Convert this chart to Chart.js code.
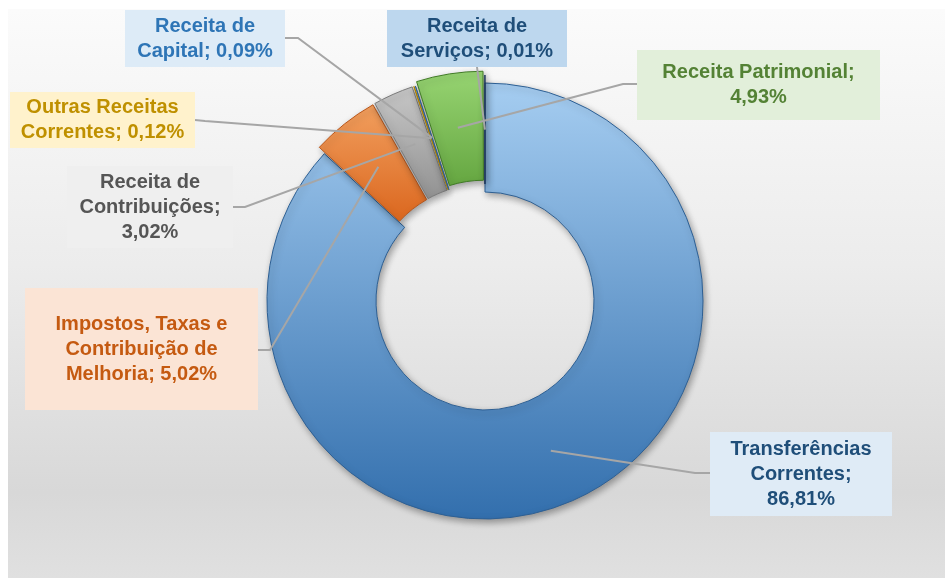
<!DOCTYPE html>
<html>
<head>
<meta charset="utf-8">
<script src="https://cdn.jsdelivr.net/npm/chart.js@4.4.0/dist/chart.umd.min.js"></script>
<style>
  html, body { margin: 0; padding: 0; background: #fff; }
  #panel {
    position: absolute; left: 8px; top: 9px; width: 937px; height: 569px;
    background: linear-gradient(to bottom, #fbfbfb 0%, #ececec 45%, #d8d8d8 85%, #e0e0e0 100%);
  }
  #wrap { position: absolute; left: 0; top: 0; width: 945px; height: 578px; }
</style>
</head>
<body>
<div id="panel"></div>
<div id="wrap"><canvas id="chart" width="945" height="578"></canvas></div>
<script>
// data, clockwise from 12 o'clock
const categories = ["Transferências Correntes", "Impostos, Taxas e Contribuição de Melhoria", "Receita de Contribuições",
  "Outras Receitas Correntes", "Receita de Capital", "Receita Patrimonial", "Receita de Serviços"];
const values = [86.81, 5.02, 3.02, 0.12, 0.09, 4.93, 0.01];

// label text lines, "{v}" gets the formatted value
const labelLines = [
  ["Transferências", "Correntes;", "{v}"],
  ["Impostos, Taxas e", "Contribuição de", "Melhoria; {v}"],
  ["Receita de", "Contribuições;", "{v}"],
  ["Outras Receitas", "Correntes; {v}"],
  ["Receita de", "Capital; {v}"],
  ["Receita Patrimonial;", "{v}"],
  ["Receita de", "Serviços; {v}"]
];

// slice looks: [top colour, bottom colour, edge]
const sliceColors = [
  ["#a9d0f3", "#2f6cab", "#2d5f93"],
  ["#f9b274", "#dc6a22", "#b9561a"],
  ["#d2d2d2", "#8a8a8a", "#7a7a7a"],
  ["#ffd24d", "#d9a300", "#b88a00"],
  ["#7fb3e3", "#3f7fc0", "#33679c"],
  ["#9bd876", "#5a9c36", "#3f7a24"],
  ["#30558f", "#1d3c6b", "#1a3358"]
];
// explode (chart.js scales this down when drawing)
const offsets = [0, 19, 18, 16, 16, 28, 16];

// label boxes: x, y, w, h, background, text colour, leader start + elbow
const boxes = [
  { x: 710, y: 432, w: 182, h: 84, bg: "#dfebf6", fg: "#1f4e79", from: [710, 473], elbow: [695, 473] },
  { x: 25, y: 288, w: 233, h: 122, bg: "#fbe4d5", fg: "#c55a11", from: [258, 350], elbow: [270, 350] },
  { x: 67, y: 166, w: 166, h: 82, bg: "#efefef", fg: "#555555", from: [233, 207], elbow: [245, 207] },
  { x: 10, y: 92, w: 185, h: 56, bg: "#fff2cc", fg: "#bf9000", from: [195, 120], elbow: [205, 121] },
  { x: 125, y: 10, w: 160, h: 57, bg: "#ddebf7", fg: "#2e75b6", from: [285, 38], elbow: [298, 38] },
  { x: 637, y: 50, w: 243, h: 70, bg: "#e2efda", fg: "#548235", from: [637, 84], elbow: [623, 84] },
  { x: 387, y: 10, w: 180, h: 57, bg: "#bdd7ee", fg: "#1f4e79", from: [477, 67], elbow: [478, 75] }
];

function fmt(v) {
  return v.toFixed(2).replace(".", ",") + "%";
}

function sliceFill(ctx) {
  const i = ctx.dataIndex;
  const area = ctx.chart.chartArea;
  if (!area || i === undefined) return "#5b9bd5";
  const g = ctx.chart.ctx.createLinearGradient(0, area.top, 0, i === 0 ? area.bottom : area.top + 150);
  g.addColorStop(0, sliceColors[i][0]);
  g.addColorStop(1, sliceColors[i][1]);
  return g;
}

const shadowPlugin = {
  id: "shadow",
  beforeDatasetsDraw(chart) {
    const c = chart.ctx;
    c.save();
    c.shadowColor = "rgba(0,0,0,0.35)";
    c.shadowBlur = 7;
    c.shadowOffsetX = 2;
    c.shadowOffsetY = 3;
  },
  afterDatasetsDraw(chart) {
    chart.ctx.restore();
  }
};

const labelPlugin = {
  id: "boxLabels",
  afterDraw(chart) {
    const c = chart.ctx;
    const arcs = chart.getDatasetMeta(0).data;
    c.save();
    // leader lines
    c.strokeStyle = "#a6a6a6";
    c.lineWidth = 2;
    arcs.forEach((arc, i) => {
      const mid = (arc.startAngle + arc.endAngle) / 2;
      const circ = arc.endAngle - arc.startAngle;
      const shift = offsets[i] / 4 * (2 - Math.sin(Math.min(Math.PI, circ)));
      const r = (arc.innerRadius + arc.outerRadius) / 2 + shift;
      const ax = arc.x + Math.cos(mid) * r;
      const ay = arc.y + Math.sin(mid) * r;
      const b = boxes[i];
      c.beginPath();
      c.moveTo(b.from[0], b.from[1]);
      c.lineTo(b.elbow[0], b.elbow[1]);
      c.lineTo(ax, ay);
      c.stroke();
    });
    // boxes and text
    c.font = "bold 20px 'Liberation Sans', Arial, sans-serif";
    c.textAlign = "center";
    c.textBaseline = "middle";
    boxes.forEach((b, i) => {
      c.fillStyle = b.bg;
      c.fillRect(b.x, b.y, b.w, b.h);
      const lines = labelLines[i].map(s => s.replace("{v}", fmt(values[i])));
      const lh = 25;
      const y0 = b.y + b.h / 2 - (lines.length - 1) * lh / 2;
      c.fillStyle = b.fg;
      lines.forEach((s, k) => c.fillText(s, b.x + b.w / 2, y0 + k * lh));
    });
    c.restore();
  }
};

new Chart(document.getElementById("chart"), {
  type: "doughnut",
  data: {
    labels: categories,
    datasets: [{
      data: values,
      backgroundColor: sliceFill,
      borderColor: sliceColors.map(s => s[2]),
      borderWidth: 1,
      offset: offsets
    }]
  },
  options: {
    responsive: false,
    animation: false,
    cutout: "50%",
    layout: { padding: { left: 252.5, right: 227.5, top: 68.5, bottom: 44.5 } },
    plugins: { legend: { display: false }, tooltip: { enabled: false } }
  },
  plugins: [shadowPlugin, labelPlugin]
});
</script>
</body>
</html>
